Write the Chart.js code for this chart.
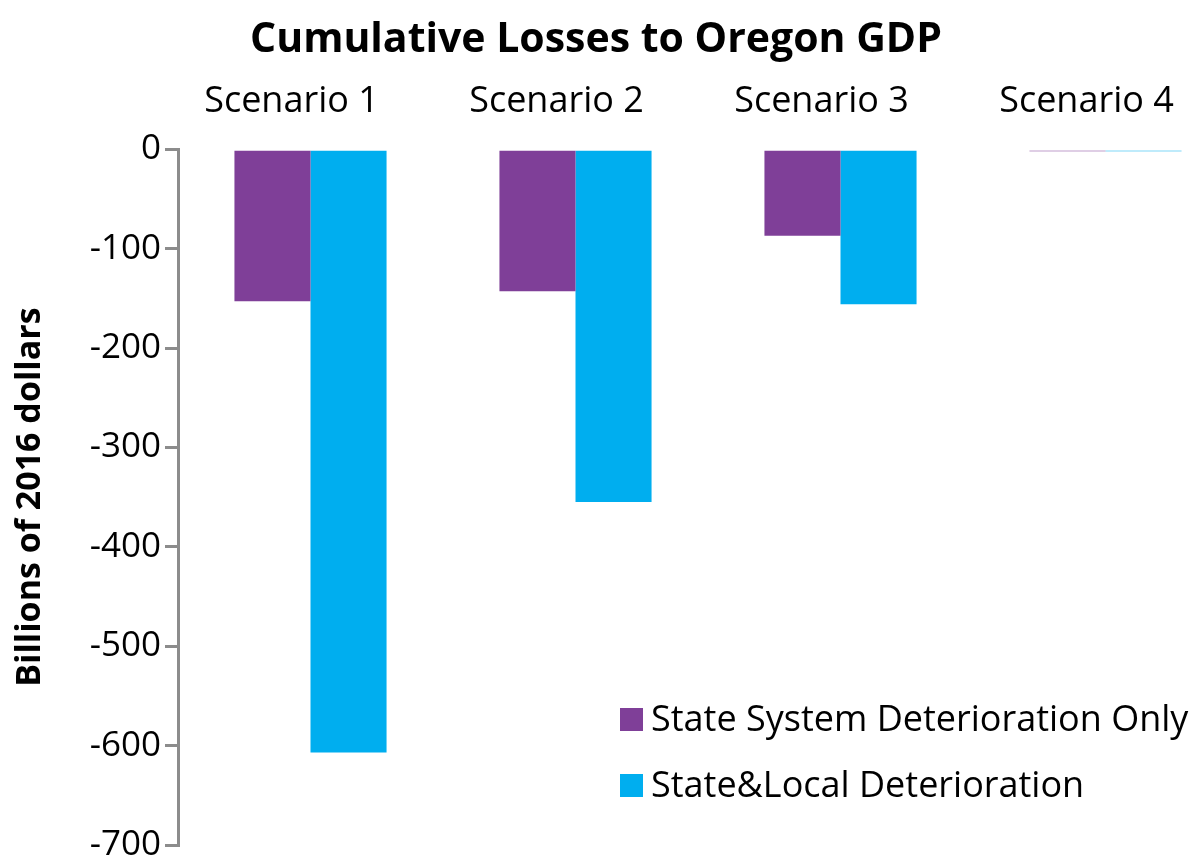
<!DOCTYPE html>
<html>
<head>
<meta charset="utf-8">
<title>Cumulative Losses to Oregon GDP</title>
<script src="https://cdn.jsdelivr.net/npm/chart.js@4.4.1/dist/chart.umd.min.js"></script>
<style>
  html, body { margin: 0; padding: 0; background: #fff; overflow: hidden; }
  #wrap { width: 1192px; height: 858px; }
</style>
</head>
<body>
<div id="wrap"><canvas id="gdpLosses" width="1192" height="858"></canvas></div>
<script>
// Escenarios y pérdidas acumuladas (miles de millones de dólares de 2016)
var scenarios = ["Scenario 1", "Scenario 2", "Scenario 3", "Scenario 4"];
var stateOnly = [-153, -143, -87, -2];
var stateLocal = [-607, -355, -156, -2];
var yTicks = [0, -100, -200, -300, -400, -500, -600, -700];

var FONT = "'Open Sans', 'Noto Sans', sans-serif";

// Leyenda dentro del área del gráfico, abajo a la derecha
var innerLegend = {
    id: 'innerLegend',
    afterDraw: function (chart) {
        var c = chart.ctx;
        var area = chart.chartArea;
        c.save();
        c.font = '36px ' + FONT;
        c.textBaseline = 'middle';
        c.textAlign = 'left';
        chart.data.datasets.forEach(function (ds, i) {
            var y = area.bottom - 125 + i * 66;
            var x = 620;
            c.fillStyle = ds.backgroundColor;
            c.fillRect(x, y - 12, 23, 23);
            c.fillStyle = '#000';
            c.fillText(ds.label, x + 31, y + 1);
        });
        c.restore();
    }
};

var ctx = document.getElementById("gdpLosses").getContext('2d');
var gdpChart = new Chart(ctx, {
    type: 'bar',
    data: {
        labels: scenarios.map(function (s, i) { return i + 1; }),
        datasets: [{
            label: 'State System Deterioration Only',
            data: stateOnly,
            backgroundColor: '#7f3f98',
            categoryPercentage: 0.574,
            barPercentage: 1.0
        }, {
            label: 'State&Local Deterioration',
            data: stateLocal,
            backgroundColor: '#00aeef',
            categoryPercentage: 0.574,
            barPercentage: 1.0
        }]
    },
    options: {
        responsive: false,
        animation: false,
        layout: { padding: { left: 0, right: 0, top: 0, bottom: 13 } },
        plugins: {
            legend: { display: false },
            tooltip: { enabled: false },
            title: {
                display: true,
                text: 'Cumulative Losses to Oregon GDP',
                color: '#000',
                font: { family: FONT, size: 41, weight: 'bold' },
                padding: { top: 16, bottom: 4 }
            }
        },
        scales: {
            x: {
                type: 'linear',
                position: 'top',
                offset: false,
                min: 0.5,
                max: 0.5 + (1192 - 178) / 265,
                grid: { display: false, drawTicks: false },
                border: { display: false },
                afterBuildTicks: function (s) {
                    s.ticks = scenarios.map(function (n, i) { return { value: i + 1 }; });
                },
                ticks: {
                    padding: 26,
                    labelOffset: -19,
                    color: '#000',
                    font: { family: FONT, size: 36 },
                    autoSkip: false,
                    maxRotation: 0,
                    callback: function (v) { return scenarios[v - 1]; }
                },
                afterFit: function (s) {
                    s.height = 80;
                    s.paddingLeft = 0;
                    s.paddingRight = 0;
                }
            },
            y: {
                min: -700,
                max: 0,
                afterBuildTicks: function (s) {
                    s.ticks = yTicks.map(function (v) { return { value: v }; });
                },
                grid: {
                    drawOnChartArea: false,
                    drawTicks: true,
                    tickLength: 13,
                    color: '#8c8c8c',
                    lineWidth: 3
                },
                border: { display: true, color: '#8c8c8c', width: 3 },
                ticks: {
                    padding: 4,
                    color: '#000',
                    font: { family: FONT, size: 35 }
                },
                title: {
                    display: true,
                    text: 'Billions of 2016 dollars',
                    color: '#000',
                    font: { family: FONT, size: 34, weight: 'bold' },
                    padding: { top: 10, bottom: 0 }
                },
                afterFit: function (s) {
                    s.width = 178;
                    s.paddingTop = 0;
                    s.paddingBottom = 0;
                }
            }
        }
    },
    plugins: [innerLegend]
});
</script>
</body>
</html>
